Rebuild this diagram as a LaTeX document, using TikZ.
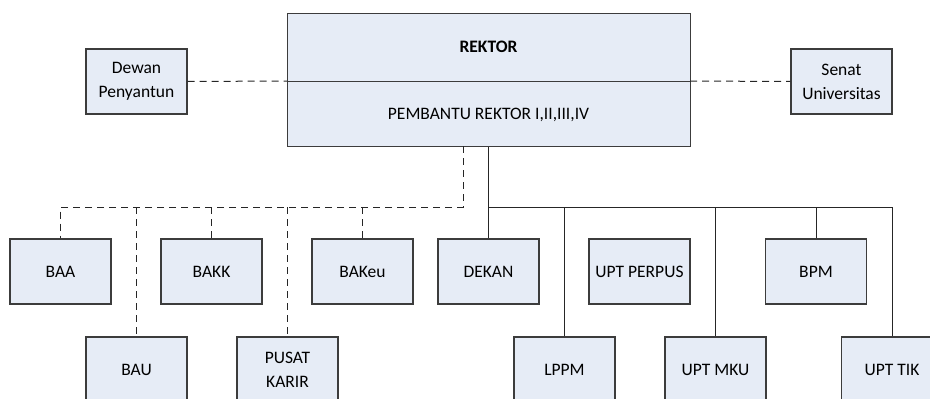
\documentclass[tikz,border=0pt]{standalone}
\usepackage{fontspec}
\setmainfont{Carlito}
\definecolor{boxfill}{HTML}{E6ECF6}
\definecolor{boxline}{HTML}{3C3C3C}
\begin{document}
\begin{tikzpicture}[x=1pt,y=-1pt,
  box/.style={draw=boxline,fill=boxfill,line width=1.3pt,inner sep=0pt,
    minimum width=101pt,minimum height=65pt,align=center,
    font=\fontsize{17.5}{24}\selectfont},
  solidlink/.style={draw=black!85,line width=1pt},
  dashlink/.style={draw=black!85,line width=1pt,dash pattern=on 7pt off 5pt}]
\useasboundingbox (0,0) rectangle (930,399);
\clip (0,0) rectangle (930,399);
% Rektor box
\node[box,minimum width=403pt,minimum height=133pt,anchor=north west] (rektor) at (287,13) {};
\node[font=\fontsize{17.5}{24}\selectfont\bfseries] (rtitle) at (488.5,47) {REKTOR};
\node[font=\fontsize{17.5}{24}\selectfont] (pembantu) at (488.5,115) {PEMBANTU REKTOR I,II,III,IV};
\coordinate (divL) at (287,81);
\coordinate (divR) at (690,81);
\draw[draw=boxline,line width=1pt] (divL) -- (divR);
% side boxes
\node[box] (dewan) at (136.5,81.5) {Dewan\\Penyantun};
\node[box] (senat) at (841.5,81.5) {Senat\\Universitas};
\draw[dashlink] (dewan.east) -- (divL);
\draw[dashlink] (divR) -- (senat.west);
% upper row
\node[box] (baa) at (60.5,271.5) {BAA};
\node[box] (bakk) at (211.5,271.5) {BAKK};
\node[box] (bakeu) at (362.5,271.5) {BAKeu};
\node[box] (dekan) at (488.5,271.5) {DEKAN};
\node[box] (perpus) at (639.5,271.5) {UPT PERPUS};
\node[box] (bpm) at (816,271.5) {BPM};
% lower row
\node[box] (bau) at (136.5,369.5) {BAU};
\node[box] (pusat) at (287.5,369.5) {PUSAT\\KARIR};
\node[box] (lppm) at (564.5,369.5) {LPPM};
\node[box] (mku) at (715.5,369.5) {UPT MKU};
\node[box] (tik) at (892,369.5) {UPT TIK};
% dashed tree
\coordinate (dtop) at (463,146);
\coordinate (dbar) at (463,207);
\draw[dashlink] (dtop) -- (dbar) -- (baa.north |- dbar) -- (baa.north);
\draw[dashlink] (bau.north |- dbar) -- (bau.north);
\draw[dashlink] (bakk.north |- dbar) -- (bakk.north);
\draw[dashlink] (pusat.north |- dbar) -- (pusat.north);
\draw[dashlink] (bakeu.north |- dbar) -- (bakeu.north);
% solid tree
\coordinate (sbar) at (488.5,207);
\draw[solidlink] (rektor.south -| dekan.north) -- (dekan.north);
\draw[solidlink] (sbar) -- (tik.north |- sbar) -- (tik.north);
\draw[solidlink] (lppm.north |- sbar) -- (lppm.north);
\draw[solidlink] (mku.north |- sbar) -- (mku.north);
\draw[solidlink] (bpm.north |- sbar) -- (bpm.north);
\end{tikzpicture}
\end{document}
